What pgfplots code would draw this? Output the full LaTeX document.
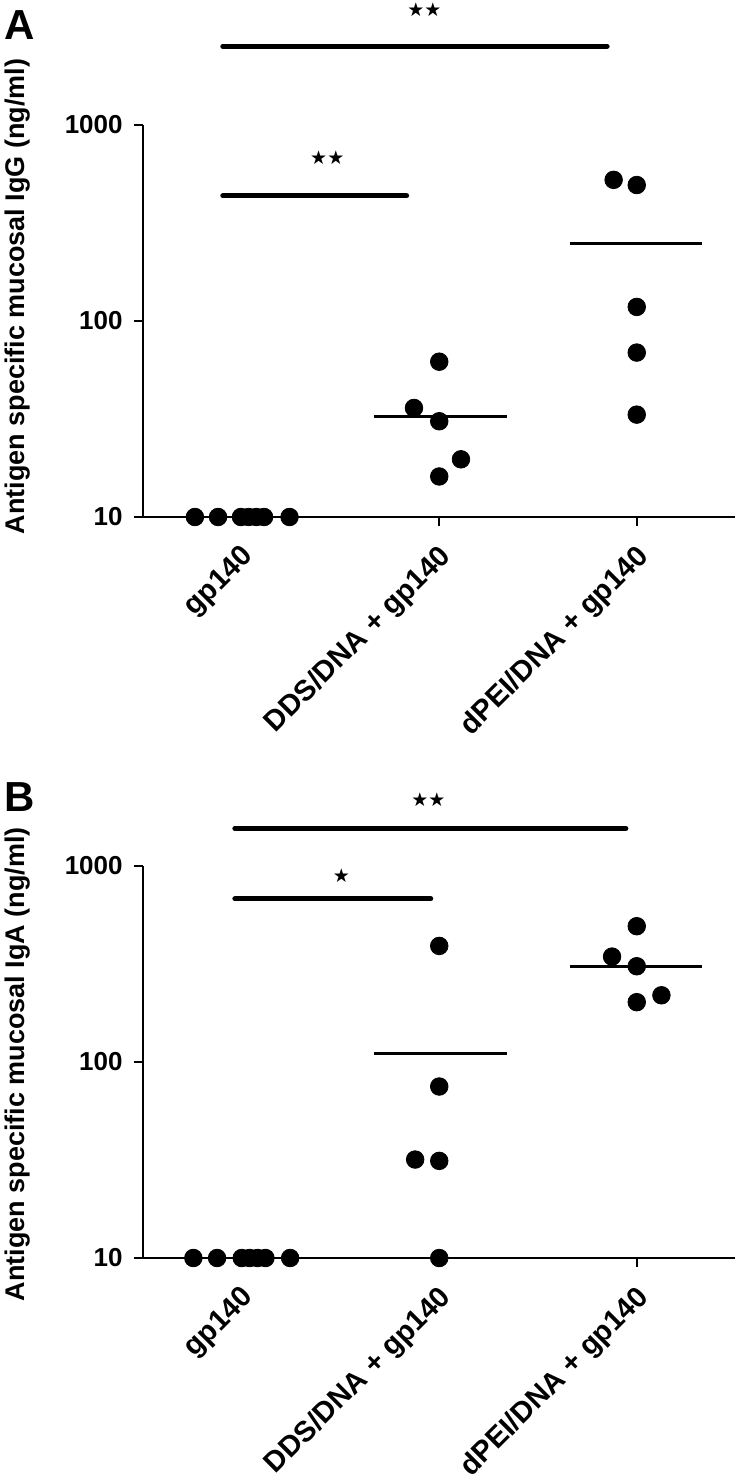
\documentclass[border=0pt]{standalone}
\usepackage{fontspec}
\setmainfont{Liberation Sans}
\newfontfamily\starfont{DejaVu Sans}
\usepackage{pgfplots}
\pgfplotsset{compat=1.18}
\newcommand{\stars}[1]{{\starfont\fontsize{9.5}{9.5}\selectfont #1}}
\pgfplotsset{
  every axis/.append style={
    scale only axis, width=296.25pt, height=196pt,
    xmin=-0.5, xmax=2.5, ymin=10, ymax=1000,
    axis x line=bottom, axis y line=left,
    axis line style={-, line width=1.1pt},
    xtick={0,1,2},
    xticklabels={gp140, DDS/DNA + gp140, dPEI/DNA + gp140},
    ytick={10,100,1000}, yticklabels={10,100,1000},
    yminorticks=false, xminorticks=false,
    tick align=outside, major tick length=4.5pt,
    tick style={line width=1.1pt, black},
    tick label style={font=\fontsize{13}{13}\selectfont\bfseries, inner sep=0pt},
    xticklabel style={font=\fontsize{14.5}{14.5}\selectfont\bfseries, rotate=45, anchor=east, xshift=-6.5pt, yshift=-12pt},
    yticklabel style={anchor=east, xshift=-5.5pt},
    label style={font=\fontsize{13.5}{13.5}\selectfont\bfseries, inner sep=0pt},
    clip=false,
  },
}
\tikzset{
  mydots/.style={only marks, mark=*, mark size=4.4pt, black, mark options={fill=black}},
  mymean/.style={line width=1.5pt, black, no markers},
  mysig/.style={line width=2.5pt, black, line cap=round, no markers},
}
\begin{document}
\begin{tikzpicture}
% ---------------- Panel A ----------------
\begin{semilogyaxis}[at={(0pt,0pt)},
  ylabel={Antigen specific mucosal IgG (ng/ml)},
  ylabel style={at={(rel axis cs:-0.211,1.17)}, anchor=east}]
\addplot[mydots] coordinates {
 (-0.237,10) (-0.12,10) (-0.004,10) (0.035,10) (0.074,10) (0.113,10) (0.242,10)};
\addplot[mydots] coordinates {
 (1.0,62) (0.872,36) (1.0,30.8) (1.11,19.7) (1.0,16.1)};
\addplot[mydots] coordinates {
 (1.883,525) (2.0,494) (2.0,118) (2.0,69) (2.0,33.3)};
\addplot[mymean] coordinates {(0.668,32.7) (1.345,32.7)};
\addplot[mymean] coordinates {(1.66,249) (2.33,249)};
\addplot[mysig] coordinates {(-0.096,2523) (1.85,2523)};
\addplot[mysig] coordinates {(-0.096,435) (0.835,435)};
\node at (axis cs:0.925,3890) {\stars{★★}};
\node at (axis cs:0.433,682) {\stars{★★}};
\node[font=\fontsize{21}{21}\selectfont\bfseries] at (rel axis cs:-0.2076,1.255) {A};
\end{semilogyaxis}
% ---------------- Panel B ----------------
\begin{semilogyaxis}[at={(0pt,-370.5pt)},
  ylabel={Antigen specific mucosal IgA (ng/ml)},
  ylabel style={at={(rel axis cs:-0.211,1.10)}, anchor=east}]
\addplot[mydots] coordinates {
 (-0.245,10) (-0.125,10) (0,10) (0.04,10) (0.08,10) (0.12,10) (0.245,10)};
\addplot[mydots] coordinates {
 (1.0,391) (1.0,75) (0.878,31.8) (1.0,31.3) (1.0,10)};
\addplot[mydots] coordinates {
 (2.0,493) (1.875,345) (2.0,308) (2.0,202) (2.125,219)};
\addplot[mymean] coordinates {(0.668,111) (1.345,111)};
\addplot[mymean] coordinates {(1.66,308) (2.33,308)};
\addplot[mysig] coordinates {(-0.035,1556) (1.945,1556)};
\addplot[mysig] coordinates {(-0.035,680) (0.957,680)};
\node at (axis cs:0.945,2180) {\stars{★★}};
\node at (axis cs:0.505,893) {\stars{★}};
\node[font=\fontsize{21}{21}\selectfont\bfseries] at (rel axis cs:-0.209,1.176) {B};
\end{semilogyaxis}
\pgfresetboundingbox
\path[use as bounding box] (-71.5pt,258.5pt) rectangle (298.5pt,-483pt);
\end{tikzpicture}
\end{document}
